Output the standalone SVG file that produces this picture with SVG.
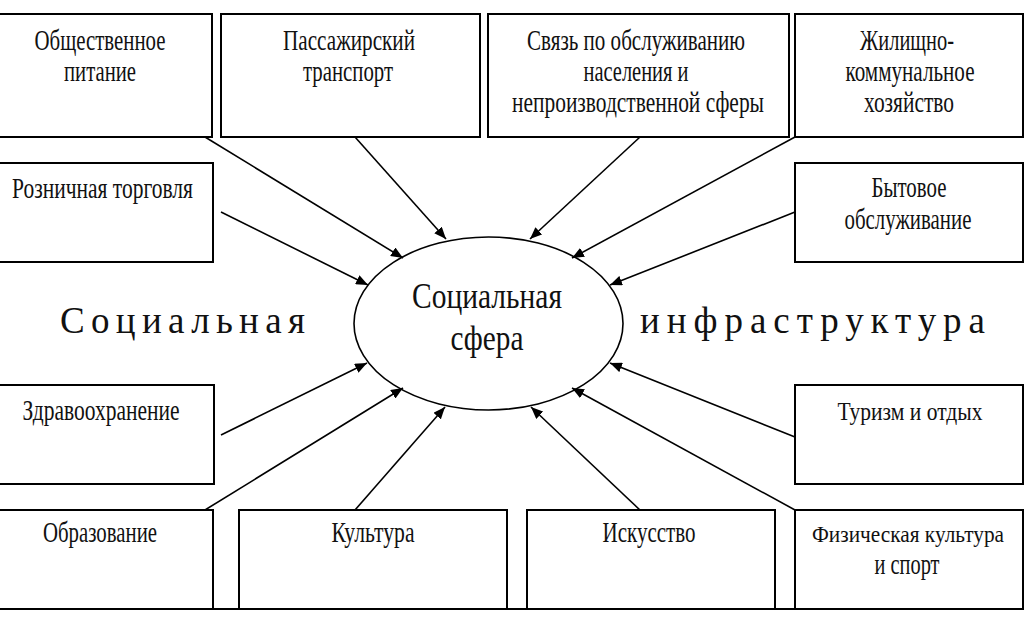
<svg xmlns="http://www.w3.org/2000/svg" width="1024" height="622" viewBox="0 0 1024 622">
<style>
.box{fill:#fff;stroke:#000;stroke-width:2}
.t{font-family:"Liberation Serif",serif;font-size:29px;fill:#111;text-anchor:middle}
.l{text-anchor:start}
.big{font-family:"Liberation Serif",serif;font-size:37px;fill:#111}
.c{stroke:#000;stroke-width:1.6;fill:none;marker-end:url(#ah)}
</style>
<defs>
<marker id="ah" viewBox="0 0 12 10" refX="12" refY="5" markerWidth="12" markerHeight="10" markerUnits="userSpaceOnUse" orient="auto">
<path d="M0,0 L12,5 L0,10 z" fill="#000"/>
</marker>
</defs>
<rect width="1024" height="622" fill="#fff"/>
<g id="n1"><rect class="box" x="-2" y="14" width="214" height="123"/>
<text class="t" x="100" y="50" textLength="131" lengthAdjust="spacingAndGlyphs">Общественное</text>
<text class="t" x="100" y="81" textLength="72" lengthAdjust="spacingAndGlyphs">питание</text></g>
<g id="n2"><rect class="box" x="221" y="14" width="259" height="123"/>
<text class="t" x="349" y="50" textLength="132" lengthAdjust="spacingAndGlyphs">Пассажирский</text>
<text class="t" x="348" y="81" textLength="90" lengthAdjust="spacingAndGlyphs">транспорт</text></g>
<g id="n3"><rect class="box" x="488" y="14" width="301" height="123"/>
<text class="t" x="636" y="50" textLength="218" lengthAdjust="spacingAndGlyphs">Связь по обслуживанию</text>
<text class="t" x="636" y="81" textLength="105" lengthAdjust="spacingAndGlyphs">населения и</text>
<text class="t" x="638" y="112" textLength="252" lengthAdjust="spacingAndGlyphs">непроизводственной сферы</text></g>
<g id="n4"><rect class="box" x="795" y="14" width="228" height="123"/>
<text class="t" x="907" y="50" textLength="94" lengthAdjust="spacingAndGlyphs">Жилищно-</text>
<text class="t" x="910" y="81" textLength="129" lengthAdjust="spacingAndGlyphs">коммунальное</text>
<text class="t" x="909" y="112" textLength="90" lengthAdjust="spacingAndGlyphs">хозяйство</text></g>
<g id="n5"><rect class="box" x="-2" y="163" width="215" height="99"/>
<text class="t l" x="12" y="198" textLength="181" lengthAdjust="spacingAndGlyphs">Розничная торговля</text></g>
<g id="n6"><rect class="box" x="795" y="163" width="228" height="99"/>
<text class="t" x="909" y="197" textLength="75" lengthAdjust="spacingAndGlyphs">Бытовое</text>
<text class="t" x="908" y="229" textLength="127" lengthAdjust="spacingAndGlyphs">обслуживание</text></g>
<g id="n7"><rect class="box" x="-2" y="385" width="216" height="99"/>
<text class="t" x="101" y="420" textLength="157" lengthAdjust="spacingAndGlyphs">Здравоохранение</text></g>
<g id="n8"><rect class="box" x="795" y="385" width="228" height="99"/>
<text class="t" style="font-size:26px" x="910" y="420" textLength="145" lengthAdjust="spacingAndGlyphs">Туризм и отдых</text></g>
<g id="n9"><rect class="box" x="-2" y="510" width="215" height="99"/>
<text class="t" x="100" y="542" textLength="114" lengthAdjust="spacingAndGlyphs">Образование</text></g>
<g id="n10"><rect class="box" x="239" y="510" width="268" height="99"/>
<text class="t" x="373" y="542" textLength="83" lengthAdjust="spacingAndGlyphs">Культура</text></g>
<g id="n11"><rect class="box" x="527" y="510" width="248" height="99"/>
<text class="t" x="649" y="542" textLength="93" lengthAdjust="spacingAndGlyphs">Искусство</text></g>
<g id="n12"><rect class="box" x="795" y="510" width="228" height="99"/>
<text class="t" style="font-size:23px" x="908" y="542" textLength="192" lengthAdjust="spacingAndGlyphs">Физическая культура</text>
<text class="t" x="907" y="574" textLength="65" lengthAdjust="spacingAndGlyphs">и спорт</text></g>
<line x1="0" y1="609" x2="1024" y2="609" stroke="#000" stroke-width="2"/>
<g id="center"><ellipse cx="488.5" cy="323.5" rx="134.5" ry="86.5" fill="#fff" stroke="#000" stroke-width="1.6"/>
<text class="t" style="font-size:36px" x="487" y="308" textLength="150" lengthAdjust="spacingAndGlyphs">Социальная</text>
<text class="t" style="font-size:36px" x="487" y="350" textLength="73" lengthAdjust="spacingAndGlyphs">сфера</text></g>
<g id="labels">
<text class="big" x="60" y="333" textLength="245" lengthAdjust="spacing">Социальная</text>
<text class="big" x="640" y="333" textLength="345" lengthAdjust="spacing">инфраструктура</text>
</g>
<g id="connectors">
<line class="c" x1="205" y1="137" x2="403" y2="258"/>
<line class="c" x1="355" y1="137" x2="446" y2="239"/>
<line class="c" x1="640" y1="137" x2="530" y2="239"/>
<line class="c" x1="795" y1="137" x2="572" y2="258"/>
<line class="c" x1="221" y1="212" x2="368" y2="285"/>
<line class="c" x1="795" y1="212" x2="610" y2="285"/>
<line class="c" x1="221" y1="435" x2="367" y2="363"/>
<line class="c" x1="795" y1="437" x2="610" y2="363"/>
<line class="c" x1="205" y1="510" x2="403" y2="388"/>
<line class="c" x1="355" y1="510" x2="445" y2="407"/>
<line class="c" x1="640" y1="510" x2="531" y2="407"/>
<line class="c" x1="795" y1="510" x2="572" y2="388"/>
</g>
</svg>
